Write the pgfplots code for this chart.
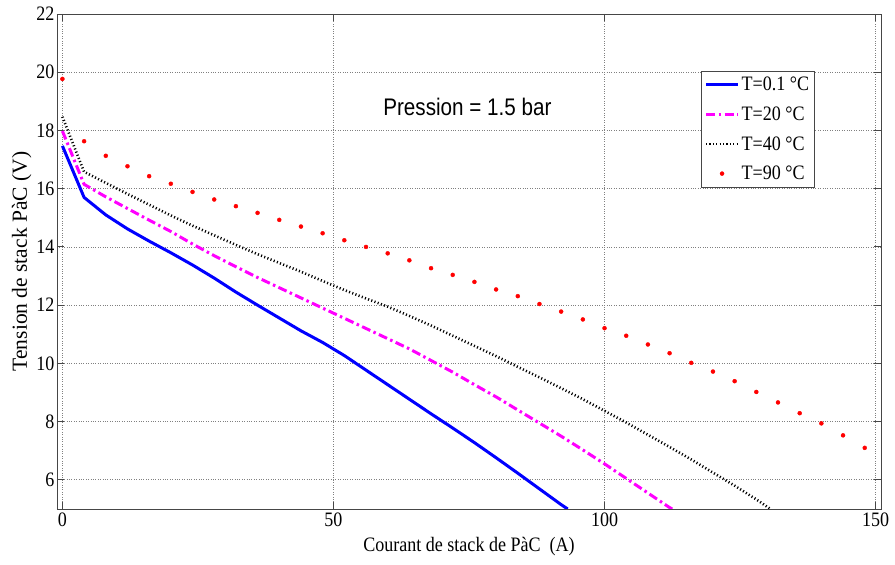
\documentclass[border=0pt]{standalone}
\usepackage{fontspec}
\setmainfont{Liberation Serif}[FakeStretch=0.88]
\newfontfamily\serifplain{Liberation Serif}
\newfontfamily\arialfont{Liberation Sans}[FakeStretch=0.86]
\usepackage{pgfplots}
\pgfplotsset{compat=1.18}
\definecolor{axgray}{RGB}{70,70,70}
\definecolor{mag}{RGB}{255,0,255}
\definecolor{pblue}{RGB}{0,0,255}
\definecolor{pred}{RGB}{255,0,0}
\pgfplotsset{
 longline/.style={legend image code/.code={\draw[##1] (0pt,0pt) -- (32pt,0pt);}},
 markentry/.style={legend image code/.code={\path[##1] plot coordinates {(16pt,0pt)};}},
}
\begin{document}
\begin{tikzpicture}
\useasboundingbox (-57pt,-56pt) rectangle (838pt,509pt);
\begin{axis}[
 scale only axis, width=824pt, height=495pt,
 xmin=-1, xmax=151, ymin=5, ymax=22,
 xtick={0,50,100,150}, ytick={6,8,...,22},
 grid=major, grid style={dotted, gray, line width=0.8pt},
 axis line style={axgray, line width=0.9pt},
 tick align=inside, tick pos=both,
 major tick length=7pt,
 tick style={axgray, line width=0.9pt},
 ticklabel style={font=\fontsize{20.5}{22}\selectfont},
 yticklabel style={xshift=1pt},
 /pgf/number format/assume math mode=true,
 xlabel={Courant de stack de PàC\ \ (A)},
 ylabel={Tension de stack PàC (V)},
 xlabel style={font=\fontsize{20.5}{22}\selectfont, yshift=-4pt},
 ylabel style={font=\serifplain\fontsize{21.5}{23}\selectfont, yshift=-2pt},
 legend style={at={(0.782,0.885)}, anchor=north west, font=\fontsize{20.5}{22}\selectfont, draw=axgray, inner xsep=3pt, inner ysep=4pt, row sep=10.5pt},
 legend cell align=left,
]
\addplot[pblue, line width=3pt, longline] coordinates {
(0,17.47)(4,15.70)(8,15.10)(12,14.62)(16,14.20)(20,13.80)(24,13.38)(28,12.93)(32,12.45)(36,12.00)(40,11.56)(44,11.12)(48,10.72)(52,10.27)(56,9.77)(60,9.27)(64,8.77)(68,8.27)(72,7.78)(76,7.28)(80,6.76)(84,6.23)(88,5.69)(92,5.15)(93.2,5.0)};
\addlegendentry{T=0.1 °C}
\addplot[mag, line width=3pt, dash pattern=on 9pt off 3.5pt on 2.5pt off 3.5pt, longline] coordinates {
(0,17.98)(4,16.15)(8,15.72)(12,15.32)(16,14.92)(20,14.53)(24,14.1)(28,13.7)(32,13.32)(36,12.95)(40,12.6)(44,12.25)(48,11.9)(52,11.55)(56,11.2)(60,10.85)(64,10.5)(68,10.1)(72,9.7)(76,9.27)(80,8.85)(84,8.4)(88,7.95)(92,7.5)(96,7.03)(100,6.55)(104,6.05)(108,5.55)(112,5.05)(112.5,5.0)};
\addlegendentry{T=20 °C}
\addplot[black, line width=2.6pt, dash pattern=on 1.1pt off 2.3pt, longline] coordinates {
(0,18.47)(4,16.58)(8,16.2)(12,15.82)(16,15.45)(20,15.08)(24,14.73)(28,14.4)(32,14.07)(36,13.75)(40,13.45)(44,13.15)(48,12.83)(52,12.52)(56,12.23)(60,11.95)(64,11.63)(68,11.3)(72,10.95)(76,10.6)(80,10.25)(84,9.88)(88,9.52)(92,9.15)(96,8.77)(100,8.37)(104,7.97)(108,7.55)(112,7.13)(116,6.7)(120,6.25)(124,5.8)(128,5.33)(130.6,5.0)};
\addlegendentry{T=40 °C}
\addplot[pred, only marks, mark=*, mark size=2pt, markentry] coordinates {
(0,19.77)(4,17.63)(8,17.13)(12,16.77)(16,16.43)(20,16.17)(24,15.89)(28,15.63)(32,15.40)(36,15.17)(40,14.93)(44,14.70)(48,14.47)(52,14.23)(56,14.00)(60,13.78)(64,13.54)(68,13.27)(72,13.04)(76,12.80)(80,12.54)(84,12.31)(88,12.04)(92,11.78)(96,11.51)(100,11.21)(104,10.95)(108,10.65)(112,10.35)(116,10.02)(120,9.72)(124,9.39)(128,9.02)(132,8.66)(136,8.29)(140,7.94)(144,7.53)(148,7.10)};
\addlegendentry{T=90 °C}
\node[font=\arialfont\fontsize{24}{26}\selectfont] at (axis cs:74.7,18.8) {Pression = 1.5 bar};
\end{axis}
\end{tikzpicture}
\end{document}
